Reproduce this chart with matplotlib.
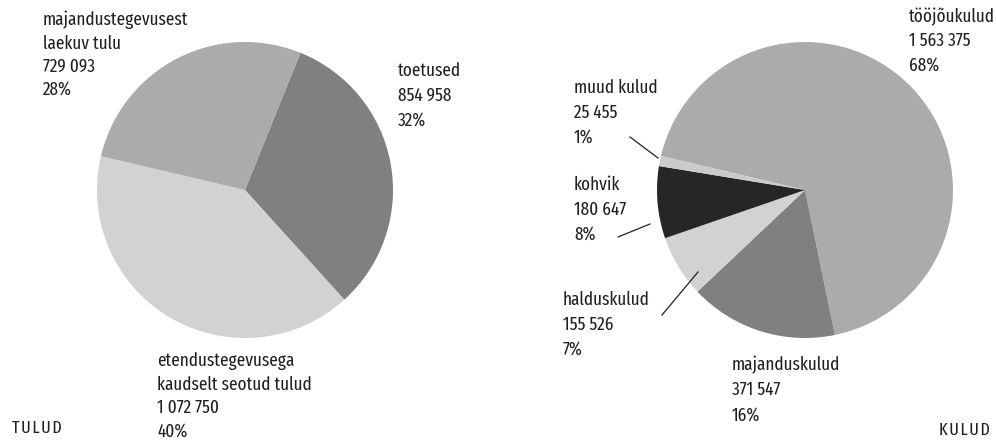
import matplotlib.pyplot as plt

# Tulud (vasak ring)
tulud_labels = ['toetused', 'etendustegevusega\nkaudselt seotud tulud', 'majandustegevusest\nlaekuv tulu']
tulud_values = [854958, 1072750, 729093]
tulud_pct = [32, 40, 28]
tulud_colors = ['#808080', '#d2d2d2', '#ababab']

# Kulud (parem ring)
kulud_labels = ['tööjõukulud', 'majanduskulud', 'halduskulud', 'kohvik', 'muud kulud']
kulud_values = [1563375, 371547, 155526, 180647, 25455]
kulud_pct = [68, 16, 7, 8, 1]
kulud_colors = ['#ababab', '#808080', '#d2d2d2', '#262626', '#cacaca']

W, H = 996, 444
plt.rcParams['font.family'] = ['Fira Sans Extra Condensed', 'Fira Sans Condensed', 'DejaVu Sans']
FS = 13.5

fig = plt.figure(figsize=(W / 100, H / 100), dpi=100)
ax = fig.add_axes([0, 0, 1, 1])

ax.pie(tulud_values, colors=tulud_colors, startangle=68, counterclock=False,
       center=(245, H - 190), radius=148, wedgeprops={'linewidth': 0})
ax.pie(kulud_values, colors=kulud_colors, startangle=166.7, counterclock=False,
       center=(805, H - 190), radius=148, wedgeprops={'linewidth': 0})

ax.set_xlim(0, W)
ax.set_ylim(0, H)
ax.set_aspect('equal')
ax.axis('off')


def fmt(v):
    return f'{v:,}'.replace(',', ' ')


def label(x, y, name, value, pct, spacing):
    txt = f'{name}\n{fmt(value)}\n{pct}%'
    ax.text(x, H - y, txt, ha='left', va='top', fontsize=FS,
            color='#231f20', linespacing=spacing)


label(43, 11, tulud_labels[2], tulud_values[2], tulud_pct[2], 1.36)
label(398, 62, tulud_labels[0], tulud_values[0], tulud_pct[0], 1.5)
label(157, 352, tulud_labels[1], tulud_values[1], tulud_pct[1], 1.4)

label(909, 8, kulud_labels[0], kulud_values[0], kulud_pct[0], 1.44)
label(574, 79, kulud_labels[4], kulud_values[4], kulud_pct[4], 1.5)
label(574, 176, kulud_labels[3], kulud_values[3], kulud_pct[3], 1.5)
label(563, 291, kulud_labels[2], kulud_values[2], kulud_pct[2], 1.5)
label(732, 356, kulud_labels[1], kulud_values[1], kulud_pct[1], 1.5)

# juhtjooned
for (x0, y0), (x1, y1) in [((630, 137), (658, 158)),
                           ((618, 237), (650, 224)),
                           ((662, 315), (698, 272))]:
    ax.plot([x0, x1], [H - y0, H - y1], color='#231f20', linewidth=0.9)

ax.text(12, H - 428, '\u200a'.join('TULUD'), ha='left', va='center', fontsize=12.5, color='#231f20')
ax.text(990, H - 430, '\u200a'.join('KULUD'), ha='right', va='center', fontsize=12.5, color='#231f20')

fig.savefig('out.png', dpi=100)
